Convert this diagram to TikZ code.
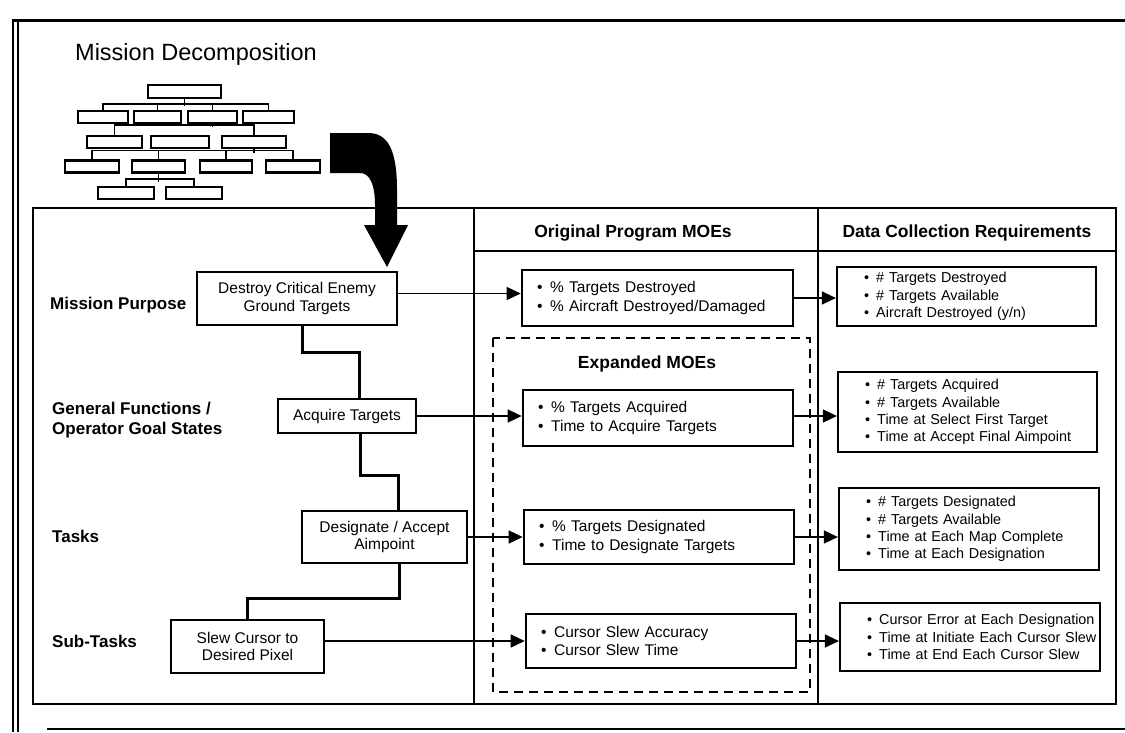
\documentclass[tikz,border=0pt]{standalone}
\usepackage{fontspec}
\setmainfont{Liberation Sans}
\usetikzlibrary{arrows.meta}
\newlength{\bpad}
\newcommand{\bitem}[1]{\hspace*{\bpad}\textbullet\hspace{0.5em}#1}
\begin{document}
\begin{tikzpicture}[x=1pt,y=-1pt,
  title/.style={font=\fontsize{23.5}{28}\selectfont, anchor=base west, inner sep=0},
  rowlbl/.style={font=\bfseries\fontsize{17}{20}\selectfont, anchor=base west, inner sep=0, align=left},
  colhdr/.style={font=\bfseries\fontsize{17.5}{20}\selectfont, anchor=base, inner sep=0},
  taskbox/.style={draw, line width=2.4pt, inner sep=0, align=center, font=\fontsize{15.5}{17.5}\selectfont},
  moebox/.style={draw, line width=2.6pt, inner sep=0, align=left, font=\fontsize{15.5}{18.5}\selectfont,
    execute at begin node={\setlength{\bpad}{15pt}}},
  dcrbox/.style={draw, line width=2.2pt, inner sep=0, align=left, font=\fontsize{14.4}{17.3}\selectfont,
    execute at begin node={\setlength{\bpad}{27pt}}},
  treebox/.style={draw, line width=2.2pt, inner sep=0},
  treeline/.style={line width=1.6pt},
  elbow/.style={line width=3pt},
  link/.style={line width=1.5pt, -{Triangle[length=14pt,width=13pt]}},
]
\useasboundingbox (0,0) rectangle (1125,732);

% outer frame
\draw[line width=3pt] (12,20) -- (1125,20);
\draw[line width=2.5pt] (13,20) -- (13,732);
\draw[line width=2pt] (18,22) -- (18,732);
\draw[line width=2.5pt] (47,729) -- (1125,729);

% title and decomposition tree
\node[title] (ttl) at (75,60) {Mission Decomposition};

\node[treebox, minimum width=73pt, minimum height=13pt] (t0) at (184.5,91.5) {};
\node[treebox, minimum width=50pt, minimum height=12pt] (t1a) at (103,117) {};
\node[treebox, minimum width=47pt, minimum height=12pt] (t1b) at (157.5,117) {};
\node[treebox, minimum width=49pt, minimum height=12pt] (t1c) at (212.5,117) {};
\node[treebox, minimum width=51pt, minimum height=12pt] (t1d) at (268.5,117) {};
\node[treebox, minimum width=55pt, minimum height=12pt] (t2a) at (114.5,142) {};
\node[treebox, minimum width=58pt, minimum height=12pt] (t2b) at (180,142) {};
\node[treebox, minimum width=64pt, minimum height=12pt] (t2c) at (254,142) {};
\node[treebox, minimum width=54pt, minimum height=12pt] (t3a) at (92,166.5) {};
\node[treebox, minimum width=53pt, minimum height=12pt] (t3b) at (158.5,166.5) {};
\node[treebox, minimum width=52pt, minimum height=12pt] (t3c) at (226,166.5) {};
\node[treebox, minimum width=54pt, minimum height=12pt] (t3d) at (293,166.5) {};
\node[treebox, minimum width=56pt, minimum height=12pt] (t4a) at (126,193) {};
\node[treebox, minimum width=56pt, minimum height=12pt] (t4b) at (194,193) {};

\draw[treeline] (t0.south) -- ++(0,7);
\draw[treeline] (t1a.north) -- ++(0,-6) -| (t1d.north);
\draw[treeline] (t1b.north) -- ++(0,-6);
\draw[treeline] (t1c.north) -- ++(0,-6);
\draw[treeline] (t1c.south) -- ++(0,3);
\draw[treeline] (t2a.north) -- ++(0,-10) -| (t2c.north);
\draw[treeline] (t2c.south) -- ++(0,4);
\draw[treeline] (t3a.north) -- ++(0,-9) -| (t3d.north);
\draw[treeline] (t3b.north) -- ++(0,-9);
\draw[treeline] (t3c.north) -- ++(0,-9);
\draw[treeline] (t3b.south) -- ++(0,8);
\draw[treeline] (t4a.north) -- ++(0,-7) -| (t4b.north);

% table frame
\draw[line width=2.5pt] (33,208) rectangle (1116,704);
\draw[line width=2pt] (474,208) -- (474,704);
\draw[line width=2pt] (818,208) -- (818,704);
\draw[line width=2pt] (474,251) -- (1116,251);

\node[colhdr] (h1) at (633,237) {Original Program MOEs};
\node[colhdr] (h2) at (967,237) {Data Collection Requirements};

% bent block arrow
\fill (330,133) -- (368,133) .. controls (388,133) and (397,150) .. (397,190)
  -- (397,225) -- (408,225) -- (387,267) -- (364,225) -- (375,225) -- (375,205)
  .. controls (375,185) and (370,173) .. (360,173) -- (330,173) -- cycle;

% row labels
\node[rowlbl] (lp) at (50,309) {Mission Purpose};
\node[rowlbl, anchor=west] (lg) at (52,420) {General Functions /\\Operator Goal States};
\node[rowlbl] (lt) at (52,542) {Tasks};
\node[rowlbl] (ls) at (52,647) {Sub-Tasks};

% task hierarchy
\node[taskbox, minimum width=200pt, minimum height=53pt] (dest) at (297,298.5) {Destroy Critical Enemy\\Ground Targets};
\node[taskbox, minimum width=138pt, minimum height=34pt] (acq) at (347,416) {Acquire Targets};
\node[taskbox, minimum width=165pt, minimum height=52pt] (desig) at (384.5,537) {Designate / Accept\\Aimpoint};
\node[taskbox, minimum width=153pt, minimum height=53pt] (slew) at (247.5,646.5) {Slew Cursor to\\Desired Pixel};

\draw[elbow] (dest.south -| 302,0) |- (359,352) -- (acq.north -| 359,0);
\draw[elbow] (acq.south -| 360,0) |- (398,475) -- (desig.north -| 398,0);
\draw[elbow] (desig.south -| 399,0) |- (slew.north |- 0,598) -- (slew.north);

% expanded MOEs
\draw[line width=2.2pt, dash pattern=on 9pt off 6pt] (493,338) rectangle (810,692);
\node[colhdr] (h3) at (647,368) {Expanded MOEs};

% MOE boxes
\node[moebox, text width=271pt, minimum height=56pt] (moe1) at (657.5,298)
  {\bitem{\% Targets Destroyed}\\\bitem{\% Aircraft Destroyed/Damaged}};
\node[moebox, text width=270pt, minimum height=56pt] (moe2) at (658,418)
  {\bitem{\% Targets Acquired}\\\bitem{Time to Acquire Targets}};
\node[moebox, text width=270pt, minimum height=54pt] (moe3) at (659,537)
  {\bitem{\% Targets Designated}\\\bitem{Time to Designate Targets}};
\node[moebox, text width=270pt, minimum height=54pt] (moe4) at (661,641)
  {\bitem{Cursor Slew Accuracy}\\\bitem{Cursor Slew Time}};

% data collection boxes
\node[dcrbox, text width=259pt, minimum height=59pt] (dcr1) at (966.5,296.5)
  {\bitem{\# Targets Destroyed}\\\bitem{\# Targets Available}\\\bitem{Aircraft Destroyed (y/n)}};
\node[dcrbox, text width=259pt, minimum height=80pt] (dcr2) at (967.5,412)
  {\bitem{\# Targets Acquired}\\\bitem{\# Targets Available}\\\bitem{Time at Select First Target}\\\bitem{Time at Accept Final Aimpoint}};
\node[dcrbox, text width=260pt, minimum height=82pt] (dcr3) at (969,529)
  {\bitem{\# Targets Designated}\\\bitem{\# Targets Available}\\\bitem{Time at Each Map Complete}\\\bitem{Time at Each Designation}};
\node[dcrbox, text width=260pt, minimum height=68pt] (dcr4) at (970,637)
  {\bitem{Cursor Error at Each Designation}\\\bitem{Time at Initiate Each Cursor Slew}\\\bitem{Time at End Each Cursor Slew}};

% links between columns
\draw[link] ([yshift=5pt]dest.east) -- ([yshift=5pt]dest.east -| moe1.west);
\draw[link] (acq.east) -- (acq.east -| moe2.west);
\draw[link] (desig.east) -- (desig.east -| moe3.west);
\draw[link] (slew.east |- moe4.west) -- (moe4.west);

\draw[link] (moe1.east) -- (moe1.east -| dcr1.west);
\draw[link] ([yshift=2pt]moe2.east) -- ([yshift=2pt]moe2.east -| dcr2.west);
\draw[link] (moe3.east) -- (moe3.east -| dcr3.west);
\draw[link] (moe4.east) -- (moe4.east -| dcr4.west);
\end{tikzpicture}
\end{document}
